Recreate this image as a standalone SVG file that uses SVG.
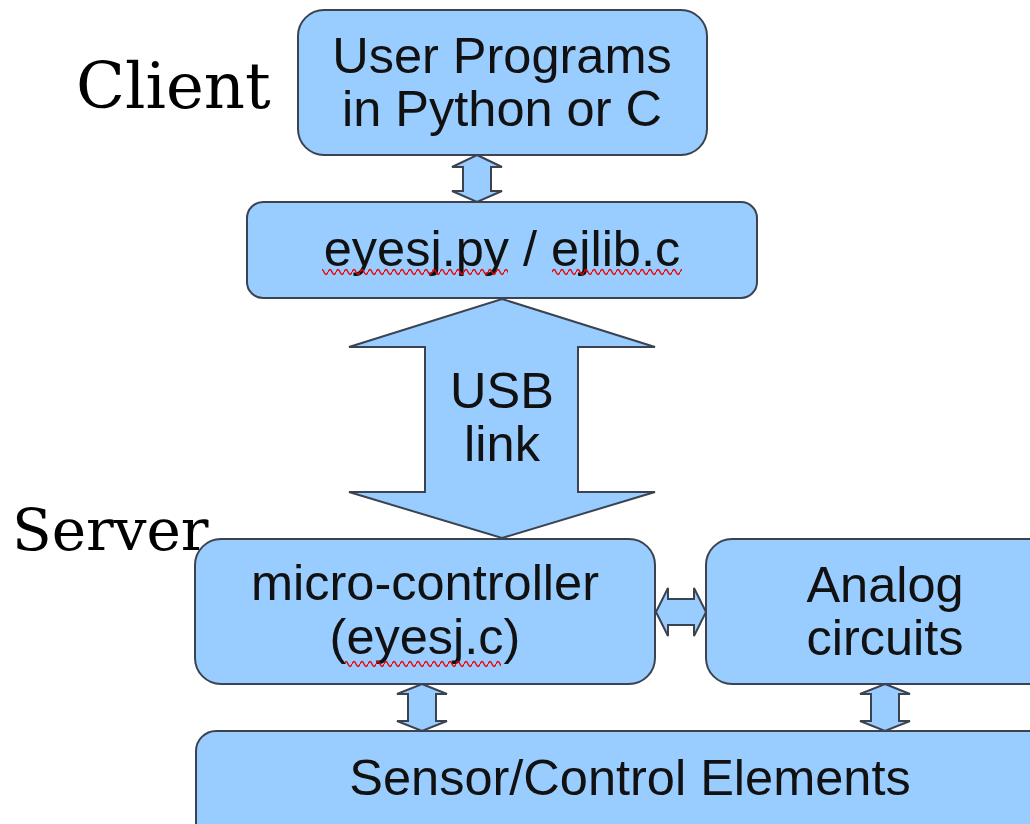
<svg xmlns="http://www.w3.org/2000/svg" width="1030" height="824" viewBox="0 0 1030 824">
<style>
.box{fill:#99ccff;stroke:#3b4350;stroke-width:2}
.arr{fill:#99ccff;stroke:#3b4350;stroke-width:2;stroke-linejoin:miter}
.t{font-family:"Liberation Sans",Arial,sans-serif;font-size:50.5px;fill:#111;text-anchor:middle}
.s{font-family:"DejaVu Serif",serif;fill:#000}
</style>
<defs>
<pattern id="wave" x="0" y="4" width="8" height="8" patternUnits="userSpaceOnUse">
<path d="M0 4 q2 -5 4 0 t4 0" stroke="#e00" stroke-width="1.4" fill="none"/>
</pattern>
</defs>
<rect width="1030" height="824" fill="#fff"/>
<text class="s" x="76" y="108" font-size="64">Client</text>
<text class="s" x="12" y="550" font-size="58">Server</text>
<g id="connectors">
<polygon class="arr" points="477,155 502,167 491,167 491,191 502,191 477,202 452,191 463,191 463,167 452,167"/>
<polygon class="arr" points="502,299 655,347 578,347 578,492 655,492 502,538 349,492 425,492 425,347 349,347"/>
<polygon class="arr" points="656,612 668,588 668,599 694,599 694,588 706,612 694,636 694,625 668,625 668,636"/>
<polygon class="arr" points="422,684 447,694 436,694 436,721 447,721 422,731 397,721 408,721 408,694 397,694"/>
<polygon class="arr" points="885,684 910,694 899,694 899,721 910,721 885,731 860,721 871,721 871,694 860,694"/>
</g>
<g id="user-programs">
<rect class="box" x="298" y="10" width="409" height="145" rx="26"/>
<text class="t" x="502" y="73">User Programs</text>
<text class="t" x="502" y="126">in Python or C</text>
</g>
<g id="eyesj-lib">
<rect class="box" x="247" y="202" width="510" height="96" rx="16"/>
<text class="t" x="502" y="266">eyesj.py / ejlib.c</text>
<rect x="322" y="268" width="186" height="8" fill="url(#wave)"/>
<rect x="552" y="268" width="130" height="8" fill="url(#wave)"/>
</g>
<g id="usb-link">
<text class="t" x="502" y="408">USB</text>
<text class="t" x="502" y="461">link</text>
</g>
<g id="micro-controller">
<rect class="box" x="195" y="539" width="460" height="145" rx="26"/>
<text class="t" x="425" y="600">micro-controller</text>
<text class="t" x="425" y="654">(eyesj.c)</text>
<rect x="345" y="660" width="156" height="8" fill="url(#wave)"/>
</g>
<g id="analog">
<rect class="box" x="706" y="539" width="350" height="145" rx="26"/>
<text class="t" x="885" y="602">Analog</text>
<text class="t" x="885" y="655">circuits</text>
</g>
<g id="sensor">
<rect class="box" x="196" y="731" width="860" height="120" rx="20"/>
<text class="t" x="630" y="795">Sensor/Control Elements</text>
</g>
</svg>
